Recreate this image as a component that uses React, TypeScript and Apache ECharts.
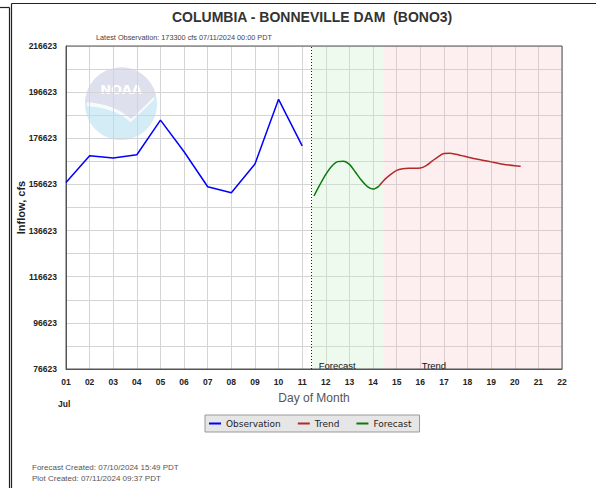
import React, { useEffect, useRef } from "react";
import * as echarts from "echarts";

// ---- Data (day-of-month, July 2024) ----
const obsDays = [1, 2, 3, 4, 5, 6, 7, 8, 9, 10, 11];
const obsValues = [157500, 169100, 168100, 169500, 184500, 170800, 155600, 153000, 165500, 193500, 173300];

const fcstDays = [11.5, 11.75, 12.0, 12.25, 12.5, 12.75, 13.0, 13.25, 13.5, 13.75, 14.0, 14.25];
const fcstValues = [151600, 156500, 161000, 164500, 166500, 166700, 165300, 162000, 158500, 155800, 154600, 155900];

const trendDays = [14.25, 14.5, 14.75, 15.0, 15.25, 15.5, 15.75, 16.0, 16.25, 16.5, 16.75, 17.0, 17.25, 17.5, 17.75, 18.0, 18.25, 18.5, 18.75, 19.0, 19.25, 19.5, 19.75, 20.0, 20.25];
const trendValues = [155900, 158800, 161000, 162700, 163400, 163600, 163600, 163700, 164800, 166700, 168600, 170000, 170100, 169700, 169100, 168500, 167900, 167400, 166900, 166400, 165900, 165400, 165000, 164700, 164500];

const yMin = 76623;
const yMax = 216623;
const yStep = 10000;
const xMin = 1;
const xMax = 22;
const nowDay = 11.4;
const forecastEndDay = 14.45;

const titleText = "COLUMBIA - BONNEVILLE DAM  (BONO3)";
const subText = "Latest Observation: 173300 cfs 07/11/2024 00:00 PDT";
const footer1 = "Forecast Created: 07/10/2024 15:49 PDT";
const footer2 = "Plot Created: 07/11/2024 09:37 PDT";

const pairs = (xs: number[], ys: number[]) => xs.map((x, i) => [x, ys[i]]);

export default function App() {
  const ref = useRef<HTMLDivElement>(null);
  useEffect(() => {
    if (!ref.current) return;
    echarts.graphic.registerShape(
      "noaaTop",
      echarts.graphic.extendPath("M -36 -2 A 36 36 0 0 1 35 -9 Q 24 2 10 15 Q -6 0 -36 -2 Z", {})
    );
    const chart = echarts.init(ref.current, null, { renderer: "svg" });
    const sans = "'Liberation Sans', Arial, sans-serif";
    chart.setOption({
      animation: false,
      backgroundColor: "#ffffff",
      title: {
        text: titleText,
        left: 167,
        top: 5,
        textStyle: { fontFamily: sans, fontSize: 14, fontWeight: "bold", color: "#333" },
      },
      legend: {
        left: 205,
        top: 415,
        data: ["Observation", "Trend", "Forecast"],
        icon: "rect",
        itemWidth: 12,
        itemHeight: 2,
        itemGap: 17,
        backgroundColor: "#e6e6e6",
        borderColor: "#999",
        borderWidth: 1,
        borderRadius: 0,
        padding: [4, 8, 4, 4],
        textStyle: { fontFamily: "'DejaVu Sans', sans-serif", fontSize: 9, color: "#222" },
      },
      grid: {
        left: 66,
        right: 34,
        top: 46,
        bottom: 119,
        show: true,
        borderColor: "#555",
        borderWidth: 1,
        z: 3,
        containLabel: false,
        outerBoundsMode: "none",
      },
      xAxis: {
        type: "value",
        min: xMin,
        max: xMax,
        interval: 1,
        name: "Day of Month",
        nameLocation: "middle",
        nameGap: 23,
        nameMoveOverlap: false,
        nameTextStyle: { fontFamily: sans, fontSize: 12, color: "#555" },
        axisLine: { show: true, lineStyle: { color: "#555" } },
        axisTick: { show: false },
        axisLabel: {
          margin: 8,
          fontFamily: sans,
          fontSize: 8.5,
          fontWeight: "bold",
          color: "#222",
          formatter: (v: number) => String(Math.round(v)).padStart(2, "0"),
        },
        splitLine: { show: true, lineStyle: { color: "#d4d4d4", width: 1 } },
      },
      yAxis: {
        type: "value",
        min: yMin,
        max: yMax,
        interval: yStep,
        name: "Inflow, cfs",
        nameLocation: "middle",
        nameGap: 40,
        nameMoveOverlap: false,
        nameTextStyle: { fontFamily: sans, fontSize: 11, fontWeight: "bold", color: "#222" },
        axisLine: { show: true, lineStyle: { color: "#555" } },
        axisTick: { show: false },
        axisLabel: {
          margin: 9,
          fontFamily: sans,
          fontSize: 8.5,
          fontWeight: "bold",
          color: "#222",
          formatter: (v: number) => (Math.round(v - yMin) % 20000 === 0 ? String(Math.round(v)) : ""),
        },
        splitLine: { show: true, lineStyle: { color: "#d4d4d4", width: 1 } },
      },
      series: [
        {
          name: "Observation",
          type: "line",
          data: pairs(obsDays, obsValues),
          showSymbol: false,
          symbol: "none",
          color: "#0000ff",
          lineStyle: { color: "#0000ff", width: 1.5 },
          z: 5,
          markArea: {
            silent: true,
            data: [
              [
                {
                  xAxis: nowDay,
                  itemStyle: { color: "#c8f0c8", opacity: 0.3 },
                  label: {
                    show: true,
                    position: "insideBottomLeft",
                    distance: 0,
                    offset: [7, 1],
                    formatter: "Forecast",
                    fontFamily: sans,
                    fontSize: 9.5,
                    color: "#111",
                  },
                },
                { xAxis: forecastEndDay },
              ],
              [
                {
                  xAxis: forecastEndDay,
                  itemStyle: { color: "#f5b8b8", opacity: 0.22 },
                  label: {
                    show: true,
                    position: "insideBottomLeft",
                    distance: 0,
                    offset: [38, 1],
                    formatter: "Trend",
                    fontFamily: sans,
                    fontSize: 9.5,
                    color: "#111",
                  },
                },
                { xAxis: xMax },
              ],
            ],
          },
          markLine: {
            silent: true,
            symbol: "none",
            label: { show: false },
            lineStyle: { color: "#222", type: [1, 2], width: 1 },
            data: [{ xAxis: nowDay }],
          },
        },
        {
          name: "Trend",
          type: "line",
          data: pairs(trendDays, trendValues),
          showSymbol: false,
          symbol: "none",
          smooth: 0.3,
          color: "#b22a2a",
          lineStyle: { color: "#b22a2a", width: 1.5 },
          z: 5,
        },
        {
          name: "Forecast",
          type: "line",
          data: pairs(fcstDays, fcstValues),
          showSymbol: false,
          symbol: "none",
          smooth: 0.3,
          color: "#0b7a0b",
          lineStyle: { color: "#0b7a0b", width: 1.5 },
          z: 5,
        },
      ],
      graphic: [
        { type: "line", shape: { x1: 0, y1: 7.5, x2: 9.5, y2: 7.5 }, style: { stroke: "#222", lineWidth: 1.2 } },
        { type: "line", shape: { x1: 9.5, y1: 7.5, x2: 9.5, y2: 488 }, style: { stroke: "#222", lineWidth: 1.2 } },
        { type: "line", shape: { x1: 11.5, y1: 3.5, x2: 596, y2: 3.5 }, style: { stroke: "#222", lineWidth: 1.2 } },
        { type: "line", shape: { x1: 11.5, y1: 3.5, x2: 11.5, y2: 488 }, style: { stroke: "#222", lineWidth: 1.2 } },
        { type: "circle", z: -1, shape: { cx: 121, cy: 104, r: 36 }, style: { fill: "#d3ecf5" } },
        { type: "noaaTop", z: -1, x: 121, y: 108, scaleX: 0.95, scaleY: 0.95, style: { fill: "#f6fbfd" } },
        { type: "noaaTop", z: -1, x: 121, y: 104, style: { fill: "#dee0ed" } },
        {
          type: "text",
          z: -1,
          x: 121,
          y: 89,
          style: {
            text: "NOAA",
            fill: "#ffffff",
            font: "bold 13px 'DejaVu Sans', sans-serif",
            align: "center",
            verticalAlign: "middle",
          },
        },
        {
          type: "text",
          x: 96,
          y: 37,
          style: { text: subText, fill: "#444", font: "7.3px 'Liberation Sans', Arial, sans-serif", verticalAlign: "middle" },
        },
        {
          type: "text",
          x: 58,
          y: 404,
          style: { text: "Jul", fill: "#222", font: `bold 8.5px ${sans}`, verticalAlign: "middle" },
        },
        {
          type: "text",
          x: 32,
          y: 467,
          style: { text: footer1, fill: "#555", font: "8px 'Liberation Sans', Arial, sans-serif", verticalAlign: "middle" },
        },
        {
          type: "text",
          x: 32,
          y: 478,
          style: { text: footer2, fill: "#555", font: "8px 'Liberation Sans', Arial, sans-serif", verticalAlign: "middle" },
        },
      ],
    });
    return () => chart.dispose();
  }, []);
  return <div ref={ref} style={{ position: "fixed", left: 0, top: 0, width: 596, height: 488 }} />;
}
